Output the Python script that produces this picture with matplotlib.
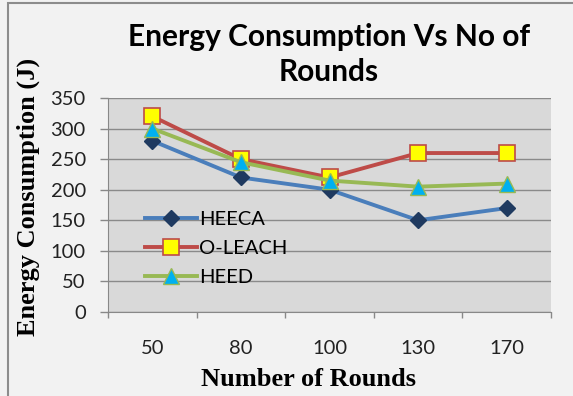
import numpy as np
import matplotlib.pyplot as plt
from matplotlib.patches import Rectangle

rounds = ['50', '80', '100', '130', '170']
heeca = [280, 220, 200, 150, 170]
oleach = [320, 250, 220, 260, 260]
heed = [300, 245, 215, 205, 210]

W, H = 573, 396
fig = plt.figure(figsize=(W / 100, H / 100), dpi=100)
fig.patch.set_facecolor('#f2f2f2')

# chart border (runs off the right and bottom edges)
fig.add_artist(Rectangle((7.5 / W, -0.05), 1.1, 1.05 - 3 / H, transform=fig.transFigure,
                         fill=False, edgecolor='#8c8c8c', linewidth=1.5))

ax = fig.add_axes([108 / W, 1 - 312 / H, 443 / W, 214 / H])
ax.set_facecolor('#d9d9d9')

x = np.arange(len(rounds))
ax.plot(x, heeca, color='#4a7ebb', lw=2.8, marker='D', ms=8,
        mfc='#1f3a60', mec='#1f3a60', label='HEECA', zorder=3)
ax.plot(x, oleach, color='#be4b48', lw=2.8, marker='s', ms=12,
        mfc='#ffff00', mec='#be4b48', mew=1.2, label='O-LEACH', zorder=3)
ax.plot(x, heed, color='#98b954', lw=2.8, marker='^', ms=12,
        mfc='#00b0f0', mec='#98b954', mew=1.0, label='HEED', zorder=4)

ax.set_xlim(-0.5, len(rounds) - 0.5)
ax.set_ylim(0, 350)
ax.set_yticks(np.arange(0, 351, 50))
ax.set_xticks(x)
ax.set_xticklabels(rounds)
ax.set_xticks(np.arange(-0.5, len(rounds)), minor=True)
ax.tick_params(axis='x', which='major', length=0, pad=20)
ax.tick_params(axis='x', which='minor', length=4, color='#888888', width=1)
ax.tick_params(axis='y', length=6, color='#888888', width=1, pad=10)
for lab in ax.get_xticklabels() + ax.get_yticklabels():
    lab.set_fontfamily('Lato')
    lab.set_fontsize(14.5)
    lab.set_color('#222222')

ax.grid(axis='y', color='#8a8a8a', lw=1)
ax.set_axisbelow(True)
for s in ['top', 'right']:
    ax.spines[s].set_visible(False)
ax.spines['left'].set_color('#888888')
ax.spines['bottom'].set_color('#888888')

leg = ax.legend(loc='center left', bbox_to_anchor=(0.065, 0.296), frameon=False,
                prop={'family': 'Lato', 'size': 14.5}, handlelength=2.6,
                handletextpad=0.1, labelspacing=0.58, borderaxespad=0.0)

fig.text(329 / W, 1 - 37 / H, 'Energy Consumption Vs No of', ha='center', va='center',
         fontsize=21.5, fontweight='bold', family='Lato')
fig.text(329 / W, 1 - 72 / H, 'Rounds', ha='center', va='center',
         fontsize=21.5, fontweight='bold', family='Lato')
fig.text(28 / W, 1 - 197 / H, 'Energy Consumption (J)', rotation=90, ha='center', va='center',
         fontsize=19, fontweight='bold', family='Liberation Serif')
fig.text(308.5 / W, 1 - 380 / H, 'Number of Rounds', ha='center', va='center',
         fontsize=19, fontweight='bold', family='Liberation Serif')

fig.savefig('out.png', dpi=100, facecolor=fig.get_facecolor())
